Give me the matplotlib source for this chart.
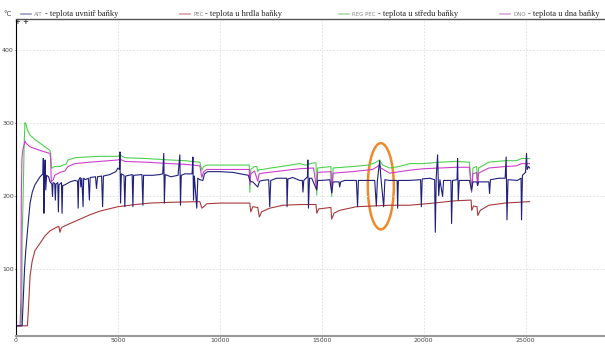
import matplotlib
matplotlib.use("Agg")
import matplotlib.pyplot as plt
from matplotlib.patches import Ellipse
from matplotlib.lines import Line2D

# AIT - teplota uvnitř baňky (cas [s], teplota [°C])
ait_t = [0, 300, 360, 420, 480, 590, 690, 800, 930, 1180, 1320,
         1340, 1370, 1400, 1430, 1460, 1500, 1600,
         1670, 1760, 1790, 1820, 1900, 1930, 1960, 2050, 2080, 2110, 2230, 2260, 2290,
         2400, 2650, 2890, 3020, 3050, 3080, 3150, 3180, 3230, 3290, 3320, 3400,
         3550, 3600, 3640, 3900, 3950, 4000, 4200, 4250, 4290, 4600, 4900, 5000,
         5080, 5100, 5130, 5170, 5300, 5340, 5380, 5700, 5735, 5770, 6180, 6225,
         6260, 6700, 7050, 7200, 7250, 7280, 7320, 7600, 7950, 8040, 8070, 8110,
         8280, 8640, 8680, 8710, 8750, 8870, 8920, 9020, 9170, 9250, 9400, 10000,
         10640, 11200, 11400, 11470, 11560, 11620, 11860, 11950, 12100, 12400,
         12450, 12500, 12790, 13090, 13280, 13300, 13340, 13580, 13920, 14050,
         14080, 14120, 14300, 14320, 14350, 14400, 14510, 14755, 14800, 15000,
         15400, 15490, 15560, 15850, 15880, 15930, 16130, 16700, 16760, 16800,
         17100, 17600, 17680, 17730, 17843, 17900, 18040, 18100, 18330, 18700,
         18725, 18760, 19300, 19850, 19888, 19930, 20300, 20540, 20574, 20620,
         20686, 20740, 20800, 20931, 20980, 21340, 21373, 21420, 21640, 21667,
         21700, 21750, 22250, 22350, 22420, 22620, 22650, 22700, 23200, 23235,
         23280, 23700, 24000, 24050, 24090, 24140, 24600, 24780, 24804, 24850,
         25000, 25049, 25080, 25150, 25200]
ait_v = [22, 22, 60, 100, 125, 160, 190, 205, 215, 226, 230,
         251, 176, 232, 249, 208, 228, 226,
         219, 216, 199, 218, 217, 194, 216, 218, 178, 215, 218, 176, 214,
         215, 219, 221, 220, 183, 222, 225, 212, 224, 185, 224, 222,
         224, 194, 225, 226, 210, 226, 227, 185, 227, 229, 233, 238,
         236, 260, 190, 230, 228, 185, 227, 229, 185, 228, 229, 187,
         228, 228, 229, 230, 258, 190, 229, 226, 228, 256, 187, 228,
         230, 230, 253, 194, 227, 183, 224, 222, 221, 230, 233, 233,
         232, 229, 228, 221, 219, 219, 212, 220, 221, 222,
         185, 221, 224, 224, 224, 185, 223, 225, 221, 221,
         205, 221, 226, 249, 183, 224, 224, 208, 221, 221,
         222, 204, 219, 219, 212, 219, 221, 221, 185, 221,
         221, 221, 186, 220, 248, 226, 185, 222, 221, 221,
         183, 221, 221, 222, 185, 223, 224, 222, 150, 226,
         256, 200, 222, 199, 221, 221, 162, 221, 222, 251,
         194, 221, 221, 208, 219, 219, 214, 219, 219, 203,
         222, 224, 224, 253, 167, 222, 221, 224, 167, 228,
         232, 258, 236, 240, 238]

# PEC - teplota u hrdla baňky
pec_t = [0, 560, 600, 690, 790, 930, 1180, 1420, 1670, 2000, 2100, 2160, 2210,
         2260, 2650, 3140, 3630, 4120, 5000, 5860, 6570, 7550, 9020, 9120, 9250,
         9360, 10000, 11000, 11470, 11520, 11620, 11860, 11940, 12050, 12450,
         13090, 13920, 14600, 14720, 14760, 14850, 15450, 15490, 15600, 15880,
         16700, 18300, 19300, 20500, 21500, 22250, 22330, 22360, 22450, 22620,
         22660, 22780, 23200, 24000, 25200]
pec_v = [22, 22, 40, 90, 110, 125, 135, 145, 152, 157, 158, 150, 155,
         157, 162, 168, 174, 179, 185, 188, 190, 191, 192, 183, 186,
         189, 190, 190, 190, 178, 185, 184, 171, 178, 183,
         187, 188, 188, 188, 176, 182, 184, 168, 176, 180,
         185, 187, 187, 190, 193, 194, 194, 180, 186, 185,
         173, 180, 187, 190, 192]

# REG PEC - teplota u středu baňky
reg_t = [0, 250, 290, 300, 350, 400, 441, 490, 560, 690, 930, 1180, 1420,
         1670, 1700, 1740, 1900, 2160, 2300, 2450, 2550, 2890, 3400, 4120, 5000,
         5100, 5350, 6370, 7550, 8300, 9020, 9120, 9200, 9360, 10000, 11225,
         11450, 11471, 11520, 11700, 11820, 11863, 11930, 12100, 12500, 13000,
         13920, 14200, 14600, 14720, 14755, 14800, 15450, 15490, 15560, 16500,
         17300, 17600, 17843, 17900, 18000, 18333, 18800, 19314, 20000, 20800,
         21600, 22250, 22353, 22420, 22600, 22647, 22700, 23200, 24000, 24560,
         24800, 25200]
reg_v = [22, 22, 60, 140, 200, 270, 300, 298, 290, 283, 277, 272, 267,
         262, 258, 238, 240, 240, 242, 243, 249, 252, 253, 254, 254,
         256, 252, 251, 249, 248, 246, 235, 240, 242, 242, 242,
         242, 205, 236, 240, 240, 233, 236, 236, 238, 240,
         244, 242, 245, 245, 201, 238, 240, 199, 238, 240,
         242, 245, 249, 246, 242, 238, 240, 244, 244, 246,
         247, 246, 205, 238, 240, 219, 238, 246, 248, 248,
         251, 251]

# DNO - teplota u dna baňky
dno_t = [0, 200, 240, 260, 290, 330, 441, 490, 690, 1180, 1420, 1670, 1700,
         1730, 1830, 1900, 2160, 2400, 2550, 2890, 3630, 5000, 5100, 5350, 6370,
         7550, 8300, 9020, 9120, 9200, 9360, 10000, 11225, 11450, 11471, 11520,
         11700, 11863, 11930, 12100, 13000, 13920, 14600, 14755, 14800, 15450,
         15490, 15560, 16500, 17500, 17843, 17900, 18333, 19314, 20000, 21600,
         22250, 22353, 22420, 22600, 22647, 22700, 23200, 24000, 24560, 24800,
         25200]
dno_v = [22, 22, 60, 200, 250, 262, 275, 272, 267, 262, 260, 258, 250,
         219, 222, 228, 232, 234, 240, 244, 246, 249, 250, 247, 246,
         244, 243, 241, 225, 233, 236, 236, 236, 236, 215, 230,
         234, 220, 230, 231, 234, 237, 238, 208, 232, 233,
         204, 231, 233, 236, 242, 238, 231, 235, 237, 239,
         239, 205, 230, 232, 214, 231, 238, 240, 241, 244,
         244]

x_ticks = [0, 5000, 10000, 15000, 20000, 25000]
y_ticks = [100, 200, 300, 400]

fig = plt.figure(figsize=(6.05, 3.46), dpi=100)
ax = fig.add_axes([16 / 605, 10 / 346, 589 / 605, 317 / 346])

ax.plot(reg_t, reg_v, color="#4fd04f", lw=0.8)
ax.plot(dno_t, dno_v, color="#cc3fcc", lw=0.8)
ax.plot(pec_t, pec_v, color="#a83a3a", lw=0.8)
ax.plot(ait_t, ait_v, color="#20207c", lw=0.8)

# zvyraznena oblast
ax.add_patch(Ellipse((17900, 213), 1275, 118, fill=False,
                     edgecolor="#ef8a2c", lw=1.8))

ax.set_xlim(0, 28900)
ax.set_ylim(8, 442)
ax.set_xticks(x_ticks)
ax.set_yticks(y_ticks)
ax.tick_params(labelsize=4.5, length=1, pad=0.5, colors="#444444")
ax.grid(True, color="#dddddd", linestyle=(0, (2, 2)), lw=0.6)

ax.spines["right"].set_visible(False)
ax.spines["left"].set_linestyle((0, (2, 1)))
ax.spines["left"].set_linewidth(0.8)
ax.spines["bottom"].set_color("#999999")
ax.spines["bottom"].set_linewidth(1.5)
ax.spines["top"].set_color("#555555")
ax.spines["top"].set_linewidth(1.0)

fig.text(3 / 605, 1 - 14 / 346, "°C", fontsize=5, va="center", color="#444444")
fig.text(17 / 605, 1 - 22 / 346, "+", fontsize=5, ha="center", va="center")
fig.text(25 / 605, 1 - 22 / 346, "+", fontsize=5, ha="center", va="center")

# legenda nad grafem
legenda = [
    (21, "#9a9ac0", "AIT", "- teplota uvnitř baňky"),
    (180, "#d8a0a8", "PEC", "- teplota u hrdla baňky"),
    (339, "#a8dca8", "REG PEC", "- teplota u středu baňky"),
    (500, "#d8a8d8", "DNO", "- teplota u dna baňky"),
]
y_leg = 1 - 14 / 346
for x0, barva, zkratka, popis in legenda:
    fig.add_artist(Line2D([x0 / 605, (x0 + 10) / 605], [y_leg, y_leg],
                          color=barva, lw=1.2))
    t1 = fig.text((x0 + 13) / 605, y_leg, zkratka, fontsize=4,
                  color="#888888", va="center")
    fig.canvas.draw()
    bb = t1.get_window_extent()
    fig.text((bb.x1 + 2) / 605, y_leg, popis, fontsize=6,
             family="Liberation Serif", va="center", color="#222222")

fig.savefig("out.png", dpi=100)
